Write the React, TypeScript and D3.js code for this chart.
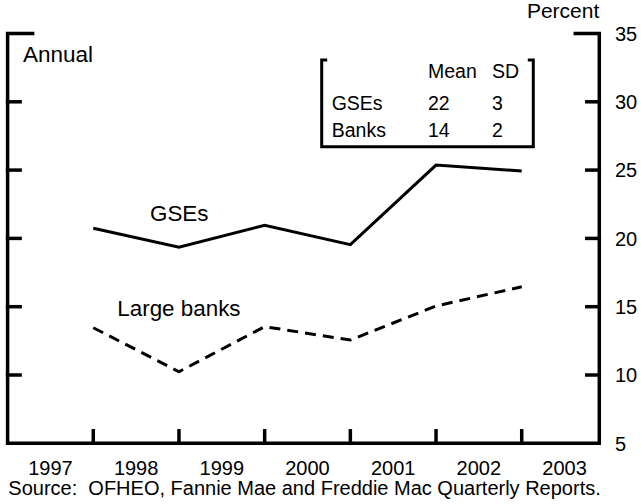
import React from 'react';
import * as d3 from 'd3';

// Annual data, plotted at the start of each year
const years = [1998, 1999, 2000, 2001, 2002, 2003];
const gseValues = [20.74, 19.35, 20.96, 19.54, 25.37, 24.93];
const bankValues = [13.46, 10.24, 13.54, 12.56, 15.05, 16.46];

const yearLabels = [1997, 1998, 1999, 2000, 2001, 2002, 2003];
const yTicks = [5, 10, 15, 20, 25, 30, 35];

const statNames = ['GSEs', 'Banks'];
const statMeans = [22, 14];
const statSDs = [3, 2];

const W = 641;
const H = 504;
const FONT = '"Liberation Sans", Arial, Helvetica, sans-serif';

const App: React.FC = () => {
  const x = d3.scaleLinear().domain([1997, 2004]).range([7.6, 607.4]);
  const y = d3.scaleLinear().domain([5, 35]).range([443.3, 33.5]);
  const left = x(1997);
  const right = 599.3;
  const top = y(35);
  const bottom = y(5);

  const line = d3
    .line<number>()
    .x((_, i) => x(years[i]))
    .y(d => y(d));

  const axisW = 3.5;
  const tickLen = 12.5;

  // inset box
  const box = { l: 321.7, r: 533.3, t: 60, b: 146.7 };
  const colMean = 428;
  const colSD = 492;
  const rowY = [110, 136.7];

  return (
    <svg
      width={W}
      height={H}
      style={{ position: 'absolute', left: 0, top: 0, background: '#fff' }}
      fontFamily={FONT}
    >
      <rect width={W} height={H} fill="#fff" />

      {/* frame */}
      <g stroke="#000" strokeWidth={axisW} fill="none" strokeLinecap="square">
        <polyline points={`${left + 25},${top} ${left},${top} ${left},${bottom} ${right},${bottom} ${right},${top} ${right - 24},${top}`} />
        {yTicks.filter(t => t > 5 && t < 35).map(t => (
          <g key={t}>
            <line x1={left} x2={left + tickLen} y1={y(t)} y2={y(t)} />
            <line x1={right} x2={right - tickLen} y1={y(t)} y2={y(t)} />
          </g>
        ))}
        {years.map(yr => (
          <line key={yr} x1={x(yr)} x2={x(yr)} y1={bottom} y2={bottom - tickLen} />
        ))}
      </g>

      {/* right tick labels */}
      {yTicks.map(t => (
        <text key={t} x={615} y={y(t) + 7.2} fontSize={20}>
          {t}
        </text>
      ))}
      <text x={right} y={18} fontSize={21} textAnchor="end">Percent</text>

      {/* year labels */}
      {yearLabels.map(yr => (
        <text key={yr} x={x(yr + 0.5)} y={475} fontSize={20} textAnchor="middle">
          {yr}
        </text>
      ))}

      <text x={23} y={62} fontSize={22.5}>Annual</text>

      {/* series */}
      <path d={line(gseValues) || ''} fill="none" stroke="#000" strokeWidth={3} strokeLinejoin="miter" />
      <path d={line(bankValues) || ''} fill="none" stroke="#000" strokeWidth={3} strokeDasharray="11,7" />
      <text x={150} y={220.7} fontSize={22.4}>GSEs</text>
      <text x={117.3} y={316} fontSize={22.4}>Large banks</text>

      {/* inset statistics */}
      <g stroke="#000" strokeWidth={3} fill="none" strokeLinecap="square">
        <polyline points={`${box.l + 4},${box.t} ${box.l},${box.t} ${box.l},${box.b} ${box.r},${box.b} ${box.r},${box.t} ${box.r - 4},${box.t}`} />
      </g>
      <g fontSize={19.5}>
        <text x={colMean} y={78}>Mean</text>
        <text x={colSD} y={78}>SD</text>
        {statNames.map((n, i) => (
          <g key={n}>
            <text x={331.7} y={rowY[i]}>{n}</text>
            <text x={colMean} y={rowY[i]}>{statMeans[i]}</text>
            <text x={colSD} y={rowY[i]}>{statSDs[i]}</text>
          </g>
        ))}
      </g>

      <text x={8.3} y={495} fontSize={20} style={{ whiteSpace: 'pre' }}>
        {'Source:  OFHEO, Fannie Mae and Freddie Mac Quarterly Reports.'}
      </text>
    </svg>
  );
};

export default App;
